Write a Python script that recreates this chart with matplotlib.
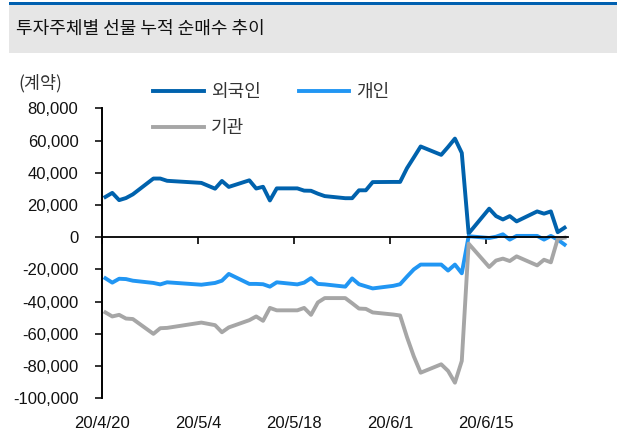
import matplotlib.pyplot as plt
import pandas as pd
from matplotlib.patches import Rectangle

# 투자주체별 선물 누적 순매수 (계약)
dates = ['2020-04-20', '2020-04-21', '2020-04-22', '2020-04-23', '2020-04-24',
         '2020-04-27', '2020-04-28', '2020-04-29',
         '2020-05-04', '2020-05-06', '2020-05-07', '2020-05-08',
         '2020-05-11', '2020-05-12', '2020-05-13', '2020-05-14', '2020-05-15',
         '2020-05-18', '2020-05-19', '2020-05-20', '2020-05-21', '2020-05-22',
         '2020-05-25', '2020-05-26', '2020-05-27', '2020-05-28', '2020-05-29',
         '2020-06-01', '2020-06-02', '2020-06-03', '2020-06-04', '2020-06-05',
         '2020-06-08', '2020-06-09', '2020-06-10', '2020-06-11', '2020-06-12',
         '2020-06-15', '2020-06-16', '2020-06-17', '2020-06-18', '2020-06-19',
         '2020-06-22', '2020-06-23', '2020-06-24', '2020-06-25', '2020-06-26']

foreign = [25000, 27500, 23000, 24300, 26600,
           36400, 36400, 35000,
           33700, 30100, 34900, 31200,
           35300, 30200, 31300, 22800, 30300,
           30300, 28900, 28800, 27000, 25500,
           24200, 24200, 29100, 29100, 34200,
           34300, 34300, 42800, 49500, 56300,
           51100, 56000, 61200, 52300, 2300,
           17700, 13100, 11000, 13100, 9800,
           16000, 14600, 16000, 3100, 5900]

individual = [-25500, -28200, -25800, -26000, -27000,
              -28400, -29300, -28000,
              -29500, -28400, -27000, -22800,
              -29000, -29000, -29200, -30700, -28000,
              -29300, -28200, -25400, -29000, -29300,
              -30700, -25600, -29200, -30500, -31800,
              -30200, -29200, -24500, -20000, -17000,
              -17000, -20700, -17000, -22400, 600,
              -500, 300, 1800, -1500, 800,
              800, -1500, 800, -1500, -4600]

institution = [-46700, -49200, -48200, -50500, -50800,
               -60000, -56500, -56300,
               -53000, -54600, -59000, -56000,
               -51500, -49200, -51900, -43900, -45400,
               -45400, -43900, -48200, -40500, -37800,
               -37800, -41000, -44300, -44500, -46700,
               -48000, -48600, -62000, -74000, -84100,
               -78900, -83000, -90300, -76800, -4000,
               -18500, -14500, -13300, -14800, -11900,
               -17500, -14000, -15600, -1000, -300]

tick_dates = ['2020-04-20', '2020-05-04', '2020-05-18', '2020-06-01', '2020-06-15']
tick_labels = ['20/4/20', '20/5/4', '20/5/18', '20/6/1', '20/6/15']

start = pd.Timestamp('2020-04-20')
x = (pd.to_datetime(dates) - start).days + 0.5
tx = (pd.to_datetime(tick_dates) - start).days

kr = ['Noto Sans CJK KR', 'DejaVu Sans']
num = 'Liberation Sans'

fig = plt.figure(figsize=(6.17, 4.36), dpi=100)

# 헤더
fig.add_artist(Rectangle((9 / 617, 1 - 52.7 / 436), 608 / 617, 48 / 436,
                         transform=fig.transFigure, facecolor='#e6e6e6', edgecolor='none'))
fig.add_artist(Rectangle((9 / 617, 1 - 4.9 / 436), 608 / 617, 2.8 / 436,
                         transform=fig.transFigure, facecolor='#0060b0', edgecolor='none'))
fig.text(16 / 617, 1 - 28.5 / 436, '투자주체별 선물 누적 순매수 추이', family=kr,
         fontsize=13, color='#111111', va='center', ha='left')

ax = fig.add_axes([102 / 617, 1 - 398.3 / 436, 466 / 617, 290 / 436])
l1, = ax.plot(x, foreign, color='#0062ad', lw=2.8, label='외국인')
l2, = ax.plot(x, individual, color='#2196f3', lw=2.8, label='개인')
l3, = ax.plot(x, institution, color='#a6a6a6', lw=2.8, label='기관')

ax.set_xlim(0, 68)
ax.set_ylim(-100000, 80000)
ax.set_yticks(range(-100000, 80001, 20000))
ax.set_yticklabels([f'{v:,}' for v in range(-100000, 80001, 20000)], family=num)
ax.tick_params(axis='y', direction='out', length=5, width=1.2, pad=12,
               labelsize=12, colors='#111111')

ax.spines['top'].set_visible(False)
ax.spines['right'].set_visible(False)
ax.spines['left'].set_linewidth(1.4)
ax.spines['bottom'].set_position(('data', 0))
ax.spines['bottom'].set_linewidth(1.3)
ax.set_xticks(tx)
ax.set_xticklabels([])
ax.tick_params(axis='x', direction='out', length=5, width=1.2)

sec = ax.secondary_xaxis('bottom')
sec.set_xticks(tx, tick_labels, family=num)
sec.spines['bottom'].set_visible(False)
sec.tick_params(length=0, pad=13, labelsize=12, colors='#111111')

fig.text(18 / 617, 1 - 83 / 436, '(계약)', family=kr, fontsize=12.5,
         color='#333333', va='center', ha='left')

leg = fig.legend(handles=[l1, l3, l2], ncol=2, frameon=False,
                 loc='upper left', bbox_to_anchor=(153 / 617, 1 - 83 / 436),
                 prop={'family': kr, 'size': 13}, handlelength=2.8,
                 handletextpad=0.4, columnspacing=2.1, labelspacing=1.0,
                 borderpad=0, borderaxespad=0)
for t in leg.get_texts():
    t.set_color('#333333')

fig.savefig('out.png', dpi=100)
